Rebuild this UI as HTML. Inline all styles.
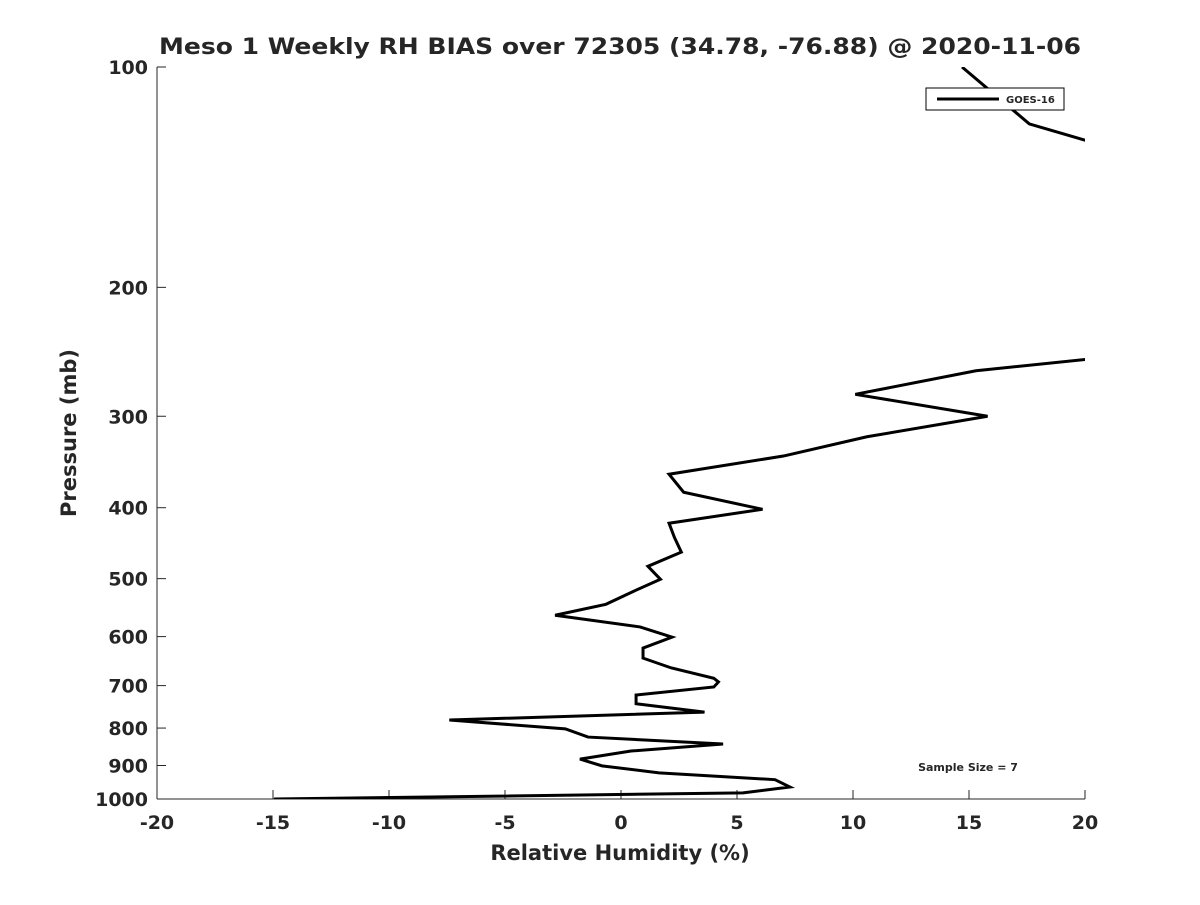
<!DOCTYPE html>
<html><head><meta charset="utf-8"><style>
body{margin:0;background:#fff}
svg text{font-family:"DejaVu Sans","Liberation Sans",sans-serif;font-weight:bold;fill:#262626}
</style></head><body>
<svg width="1200" height="900">
<script>
const pressures=[100,119.6,130,200,250,260,280,300,320,340,360,381,402,420,439,460,481,501,520,542,561,582,601,622,642,662,684,692,703,721,741,761,780,802,823,841,860,882,901,921,941,963,981,1000];
const biasValues=[14.7,17.6,21.5,35,20.5,15.3,10.1,15.8,10.6,7.0,2.07,2.7,6.1,2.07,2.3,2.6,1.16,1.7,0.56,-0.65,-2.84,0.82,2.2,0.95,0.95,2.16,4.0,4.2,4.0,0.65,0.65,3.6,-7.4,-2.4,-1.42,4.4,0.43,-1.77,-0.82,1.64,6.64,7.28,5.26,-14.96];
const xTicks=[-20,-15,-10,-5,0,5,10,15,20];
const yTicks=[100,200,300,400,500,600,700,800,900,1000];
</script>
<text x="620" y="54" font-size="22" text-anchor="middle" textLength="922" lengthAdjust="spacingAndGlyphs" fill="#000">Meso 1 Weekly RH BIAS over 72305 (34.78, -76.88) @ 2020-11-06</text>
<defs><clipPath id="c"><rect x="157" y="67" width="928" height="732"/></clipPath></defs>
<g id="ax"></g>
<polyline id="line" clip-path="url(#c)" fill="none" stroke="#000" stroke-width="3"/>
<g>
<rect x="926" y="88" width="138" height="22" fill="#fff" stroke="#000" stroke-width="1"/>
<line x1="937" y1="99" x2="999" y2="99" stroke="#000" stroke-width="3"/>
<text x="1006" y="103" font-size="10" fill="#000">GOES-16</text>
</g>
<text x="968" y="771" font-size="11" text-anchor="middle" fill="#000">Sample Size = 7</text>
<text x="620" y="860" font-size="21" text-anchor="middle">Relative Humidity (%)</text>
<text transform="translate(76,433) rotate(-90)" font-size="21" text-anchor="middle">Pressure (mb)</text>
<script>
const X0=157,X1=1085,Y0=67,Y1=799;
const xs=v=>X0+(v+20)/40*(X1-X0);
const ys=p=>Y0+Math.log10(p/100)*(Y1-Y0);
const ns="http://www.w3.org/2000/svg";
const ax=document.getElementById('ax');
function mk(t,a){const e=document.createElementNS(ns,t);for(const k in a)e.setAttribute(k,a[k]);ax.appendChild(e);return e;}
const yl=mk('line',{x1:X0,y1:Y0,x2:X0,y2:Y1,stroke:'#262626','stroke-width':1});


const xl=mk('line',{x1:X0,y1:Y1,x2:X1,y2:Y1,stroke:'#262626','stroke-width':1});


xTicks.forEach(v=>{const x=xs(v);
 mk('line',{x1:x,y1:Y1,x2:x,y2:Y1-9,stroke:'#262626'});
 const t=mk('text',{x:x,y:Y1+30,'font-size':19,'text-anchor':'middle'});t.textContent=v;
 
 });
yTicks.forEach(p=>{const y=ys(p);
 mk('line',{x1:X0,y1:y,x2:X0+9,y2:y,stroke:'#262626'});
 const t=mk('text',{x:X0-9,y:y+7,'font-size':19,'text-anchor':'end'});t.textContent=p;
 
 });
document.getElementById('line').setAttribute('points',pressures.map((p,i)=>xs(biasValues[i])+','+ys(p)).join(' '));
</script>
</svg>
</body></html>
